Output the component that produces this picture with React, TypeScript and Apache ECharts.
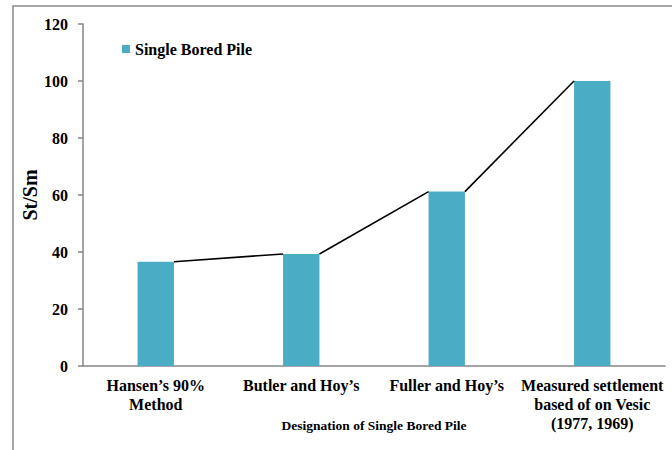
import React, { useEffect, useRef } from "react";
import * as echarts from "echarts";

const categories = [
  "Hansen’s 90%\nMethod",
  "Butler and Hoy’s",
  "Fuller and Hoy’s",
  "Measured settlement\nbased of on Vesic\n(1977, 1969)",
];
const values = [36.6, 39.3, 61.2, 100];
const yTicks = { min: 0, max: 120, interval: 20 };
const seriesName = "Single Bored Pile";
const xTitle = "Designation of Single Bored Pile";
const yTitle = "St/Sm";

const FONT = "Liberation Serif";

export default function App() {
  const ref = useRef<HTMLDivElement>(null);
  useEffect(() => {
    if (!ref.current) return;
    const chart = echarts.init(ref.current, null, { renderer: "svg" });
    const barFrac = 0.25;
    chart.setOption({
      animation: false,
      backgroundColor: "#fff",
      textStyle: { fontFamily: FONT },
      graphic: [
        {
          type: "rect",
          shape: { x: 13, y: 6, width: 720, height: 500 },
          style: { fill: "none", stroke: "#8a8a8a", lineWidth: 1.5 },
          silent: true,
          z: -10,
        },
      ],
      legend: {
        data: [seriesName],
        left: 117,
        top: 36,
        icon: "rect",
        itemWidth: 8,
        itemHeight: 8,
        itemGap: 4,
        textStyle: { fontFamily: FONT, fontWeight: "bold", fontSize: 16, color: "#000" },
      },
      grid: { left: 83, right: 7, top: 24, bottom: 84, containLabel: false, outerBoundsMode: "none" },
      xAxis: {
        type: "category",
        data: categories,
        name: xTitle,
        nameLocation: "middle",
        nameGap: 52,
        nameMoveOverlap: false,
        nameTextStyle: { fontFamily: FONT, fontWeight: "bold", fontSize: 13.5, color: "#000" },
        axisLine: { lineStyle: { color: "#868686", width: 1.5 } },
        axisTick: { show: false },
        axisLabel: {
          interval: 0,
          margin: 10,
          fontFamily: FONT,
          fontWeight: "bold",
          fontSize: 16,
          lineHeight: 19,
          color: "#000",
        },
      },
      yAxis: {
        type: "value",
        min: yTicks.min,
        max: yTicks.max,
        interval: yTicks.interval,
        name: yTitle,
        nameLocation: "middle",
        nameGap: 43,
        nameMoveOverlap: false,
        nameTextStyle: { fontFamily: FONT, fontWeight: "bold", fontSize: 20, color: "#000" },
        splitLine: { show: false },
        axisLine: { show: true, lineStyle: { color: "#868686", width: 1.5 } },
        axisTick: { show: true, length: 5, lineStyle: { color: "#868686", width: 1.5 } },
        axisLabel: {
          margin: 15,
          fontFamily: FONT,
          fontWeight: "bold",
          fontSize: 16,
          color: "#000",
        },
      },
      series: [
        {
          name: seriesName,
          type: "bar",
          data: values,
          barWidth: "25%",
          itemStyle: { color: "#4BACC6" },
        },
        {
          type: "custom",
          data: values.map((v, i) => [i, v]),
          z: 5,
          renderItem: (params: any, api: any) => {
            const i = api.value(0);
            if (i >= values.length - 1) return { type: "group", children: [] };
            const band = api.size([1, 0])[0];
            const hw = (band * barFrac) / 2;
            const p1 = api.coord([i, api.value(1)]);
            const p2 = api.coord([i + 1, values[i + 1]]);
            return {
              type: "line",
              shape: { x1: p1[0] + hw, y1: p1[1], x2: p2[0] - hw, y2: p2[1] },
              style: { stroke: "#000", lineWidth: 1.6 },
            };
          },
        },
      ],
    });
    return () => chart.dispose();
  }, []);
  return <div ref={ref} style={{ width: 672, height: 450, position: "absolute", left: 0, top: 0 }} />;
}
